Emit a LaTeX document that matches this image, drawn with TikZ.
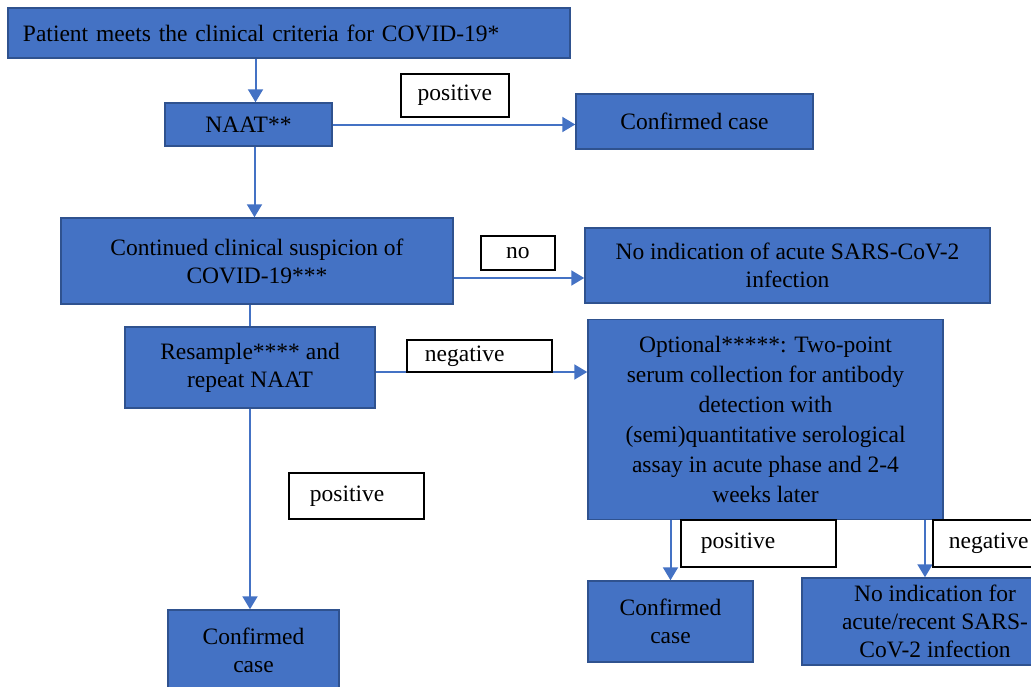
\documentclass[tikz,border=0pt]{standalone}
\usepackage{fontspec}
\setmainfont{Liberation Serif}
\usetikzlibrary{arrows.meta}
\definecolor{stageblue}{HTML}{4472C4}
\definecolor{stageedge}{HTML}{2F528F}
\definecolor{flowblue}{HTML}{4472C4}
\begin{document}
\begin{tikzpicture}[
  x=1pt,y=-1pt,
  font=\fontsize{23.5}{28}\selectfont,
  stage/.style={draw=stageedge,fill=stageblue,line width=1.5pt,inner sep=0pt,align=center,text=black},
  tag/.style={draw=black,fill=white,line width=1.8pt,anchor=north west,inner xsep=20pt,inner ysep=0pt,align=left},
  flow/.style={-{Triangle[width=15pt,length=13pt]},draw=flowblue,line width=2pt},
  link/.style={draw=flowblue,line width=2pt}
]
\useasboundingbox (0,0) rectangle (1031,686);
\clip (0,0) rectangle (1031,686);

\node[stage,minimum height=50pt,text width=532pt,inner xsep=15pt,align=left] (crit) at (289,33)
  {Patient meets the clinical criteria for COVID-19*};
\node[stage,minimum width=167pt,minimum height=43pt] (naat) at (248.5,124.5) {NAAT**};
\node[stage,minimum width=237pt,minimum height=55pt] (conf1) at (694.5,121.5) {Confirmed case};
\node[stage,minimum width=392pt,minimum height=86pt] (cont) at (257,261)
  {Continued clinical suspicion of\\COVID-19***};
\node[stage,minimum width=405pt,minimum height=75pt] (noinf) at (787.5,265.5)
  {No indication of acute SARS-CoV-2\\infection};
\node[stage,minimum width=250pt,minimum height=81pt] (resamp) at (250,367.5)
  {Resample**** and\\repeat NAAT};
\node[stage,minimum width=355pt,minimum height=200pt,font=\fontsize{23.5}{30}\selectfont] (opt) at (765.5,419.5)
  {Optional*****: Two-point\\serum collection for antibody\\detection with\\(semi)quantitative serological\\assay in acute phase and 2-4\\weeks later};
\node[stage,minimum width=171pt,minimum height=80pt] (conf2) at (253.5,650) {Confirmed\\case};
\node[stage,minimum width=165pt,minimum height=81pt] (conf3) at (670.5,621.5) {Confirmed\\case};
\node[stage,minimum width=266pt,minimum height=87pt] (noinf2) at (935,621.5)
  {No indication for\\acute/recent SARS-\\CoV-2 infection};

\draw[flow] ([xshift=7pt]naat.north |- crit.south) -- ([xshift=7pt]naat.north);
\draw[flow] (naat.east) -- (naat.east -| conf1.west);
\draw[flow] ([xshift=6pt]naat.south) -- ([xshift=6pt]naat.south |- cont.north);
\draw[flow] ([yshift=-17pt]cont.east) -- ([yshift=-17pt]cont.east -| noinf.west);
\draw[link] (resamp.north |- cont.south) -- (resamp.north);
\draw[flow] ([yshift=-4.5pt]resamp.east) -- ([yshift=-4.5pt]resamp.east -| opt.west);
\draw[flow] (resamp.south) -- (resamp.south |- conf2.north);
\draw[flow] (conf3.north |- opt.south) -- (conf3.north);
\draw[flow] ([xshift=-10pt]noinf2.north |- opt.south) -- ([xshift=-10pt]noinf2.north);

\node[tag,minimum width=108pt,minimum height=43pt,inner xsep=0pt,align=center] (tpos1) at (400,73) {positive};
\node[tag,minimum width=74pt,minimum height=34pt,inner xsep=0pt,align=center] (tno) at (480,235) {no};
\node[tag,minimum height=32pt,inner xsep=18pt,text width=109pt] (tneg1) at (406,339) {negative};
\node[tag,minimum height=46pt,inner xsep=21pt,text width=93pt] (tpos2) at (288,472) {positive};
\node[tag,minimum height=47pt,text width=115pt] (tpos3) at (680,519) {positive};
\node[tag,minimum height=47pt,inner xsep=16pt,text width=94pt] (tneg2) at (932,519) {negative};
\end{tikzpicture}
\end{document}
